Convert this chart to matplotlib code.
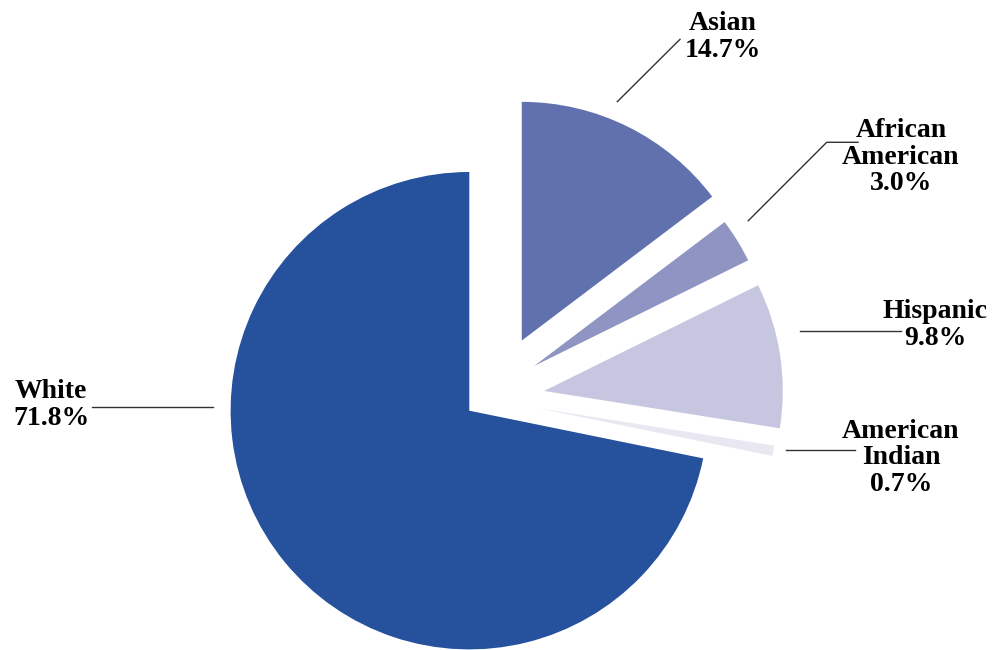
import matplotlib.pyplot as plt
import numpy as np

# Data
groups = ['White', 'American Indian', 'Hispanic', 'African American', 'Asian']
shares = [71.8, 0.7, 9.8, 3.0, 14.7]
label_text = ['White\n71.8%', 'American\nIndian\n0.7%', 'Hispanic\n9.8%',
              'African\nAmerican\n3.0%', 'Asian\n14.7%']

colors = ['#26519c', '#e9e8f2', '#c6c6e0', '#8f94c3', '#6171ae']

# pixel layout of the original picture
W, H = 993, 650
cx, cy, R = 469.3, 410.7, 238.7

def px(x, y):
    return (x - cx) / R, (cy - y) / R

# how far each slice is pulled out (radius units) and in which direction (deg)
pull = [0, 0.29, 0.324, 0.33, 0.367]
pull_dir = [0, 2, 14.8, 34.6, 53.2]

fig = plt.figure(figsize=(W / 100, H / 100), dpi=100)
ax = fig.add_axes([0, 0, 1, 1])

wedges, _ = ax.pie(shares, colors=colors, startangle=90, counterclock=True,
                   radius=1, wedgeprops=dict(linewidth=0))
for w, d, a in zip(wedges, pull, pull_dir):
    t = np.deg2rad(a)
    w.set_center((d * np.cos(t), d * np.sin(t)))

x0, y1 = px(0, 0)
x1, y0 = px(W, H)
ax.set_xlim(x0, x1)
ax.set_ylim(y0, y1)
ax.set_aspect('auto')
ax.axis('off')

# leader lines
leaders = [
    [(92, 407.3), (213, 407.3)],
    [(786, 450), (855, 450)],
    [(800, 330.7), (901, 330.7)],
    [(748.3, 220.7), (826.7, 142.3), (858, 142.3)],
    [(617.3, 101.7), (680, 39.3)],
]
for pts in leaders:
    xy = np.array([px(*p) for p in pts])
    ax.plot(xy[:, 0], xy[:, 1], color='#333333', lw=1.0)

# labels: (x, y of text centre, alignment)
label_pos = [(13, 405, 'left'), (901, 458, 'center'), (935, 325, 'center'),
             (901, 157, 'center'), (723, 37, 'center')]
for txt, (x, y, ha) in zip(label_text, label_pos):
    tx, ty = px(x, y)
    ax.text(tx, ty, txt, ha=ha, va='center', multialignment='center',
            fontsize=20, fontweight='bold', family='Liberation Serif',
            linespacing=1.08, color='black')

fig.savefig('out.png', dpi=100)
